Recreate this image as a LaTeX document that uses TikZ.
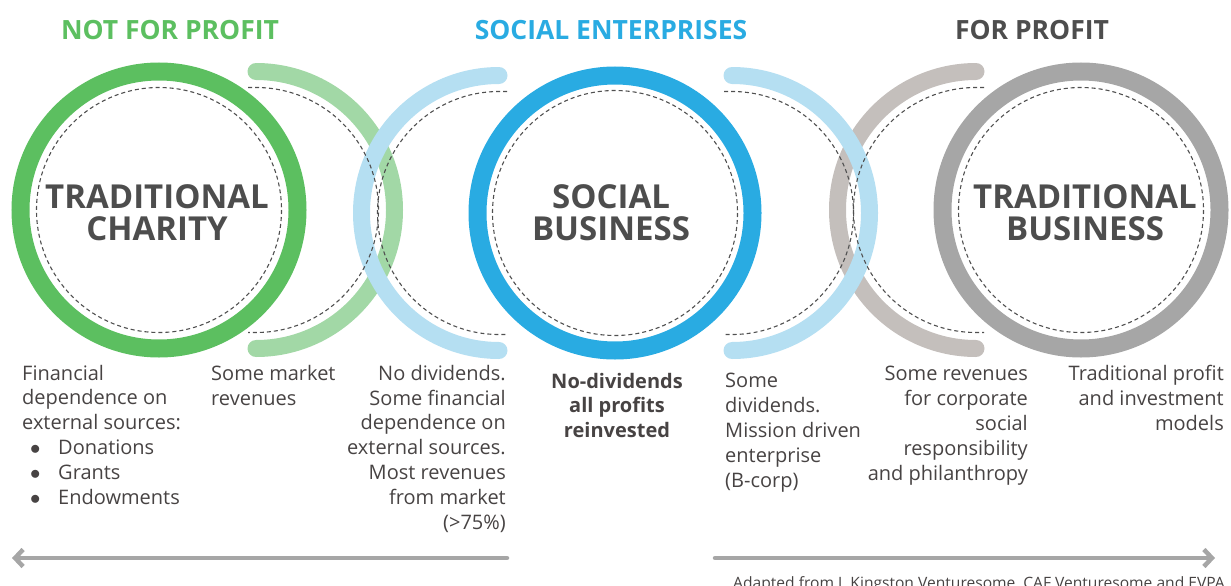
\documentclass[tikz,border=0pt]{standalone}
\usepackage{fontspec}
\setmainfont{Open Sans}
\newfontfamily\headfont{Open Sans}
\usetikzlibrary{arrows.meta}
\definecolor{npgreen}{HTML}{5CBF60}
\definecolor{npgreenlight}{HTML}{A2D8A6}
\definecolor{seblue}{HTML}{29ABE2}
\definecolor{sebluelight}{HTML}{B5DFF2}
\definecolor{fptaupe}{HTML}{C4BFBC}
\definecolor{fpgray}{HTML}{A6A6A6}
\definecolor{ink}{HTML}{4D4D4D}
\definecolor{bodyink}{HTML}{474343}
\definecolor{dashink}{HTML}{505050}
\definecolor{arrowgray}{HTML}{A6A6A6}
\newcommand\bulletitem[1]{\makebox[36pt][l]{\hspace{8pt}$\bullet$}#1}

\begin{document}
\begin{tikzpicture}[x=1pt,y=-1pt,
  ring/.style={line width=18pt},
  halfring/.style={line width=17pt, line cap=round},
  guide/.style={dashink, line width=1.1pt, dash pattern=on 4pt off 3pt},
  heading/.style={font=\headfont\bfseries\fontsize{26.5}{30}\selectfont, inner sep=0pt, anchor=base},
  title/.style={font=\headfont\bfseries\fontsize{33}{32}\selectfont, text=ink, align=center, inner sep=0pt},
  note/.style={font=\fontsize{20}{24.8}\selectfont, text=bodyink, inner sep=0pt},
  scalearrow/.style={arrowgray, line width=4.5pt, line cap=round, -{Straight Barb[length=8pt,width=17pt]}}
]
\useasboundingbox (0,0) rectangle (1231,586);
\clip (0,0) rectangle (1231,586);

% centres of the rings and half rings
\coordinate (cNP)  at (159,210);
\coordinate (cNPx) at (256,210);
\coordinate (cSEl) at (499,213);
\coordinate (cSB)  at (615,213);
\coordinate (cSEr) at (732,213);
\coordinate (cFPx) at (976,210);
\coordinate (cTB)  at (1081,210);

% half rings (transition zones)
\draw[halfring, npgreenlight] (cNPx) ++(-90:138.5) arc[start angle=-90, end angle=90, radius=138.5];
\draw[halfring, sebluelight] (cSEl) ++(-90:137.5) arc[start angle=-90, end angle=-270, radius=137.5];
\draw[halfring, fptaupe] (cFPx) ++(-90:138.5) arc[start angle=-90, end angle=-270, radius=138.5];
\draw[halfring, sebluelight] (cSEr) ++(-90:137.5) arc[start angle=-90, end angle=90, radius=137.5];

% full rings
\draw[ring, npgreen] (cNP) circle[radius=138.5];
\draw[ring, seblue] (cSB) circle[radius=137.5];
\draw[ring, fpgray] (cTB) circle[radius=138.5];

% dashed guides
\draw[guide] (cNP) circle[radius=122.5];
\draw[guide] (cSB) circle[radius=122.5];
\draw[guide] (cTB) circle[radius=122.5];
\draw[guide] (cNPx) ++(-8,-122.5) -- ++(8,0) arc[start angle=-90, end angle=90, radius=122.5] -- ++(-8,0);
\draw[guide] (cSEl) ++(8,-121.5) -- ++(-8,0) arc[start angle=-90, end angle=-270, radius=121.5] -- ++(8,0);
\draw[guide] (cFPx) ++(8,-122.5) -- ++(-8,0) arc[start angle=-90, end angle=-270, radius=122.5] -- ++(8,0);
\draw[guide] (cSEr) ++(-8,-121.5) -- ++(8,0) arc[start angle=-90, end angle=90, radius=121.5] -- ++(-8,0);

% headings
\node[heading, text=npgreen] (hNP) at (170,40) {NOT FOR PROFIT};
\node[heading, text=seblue] (hSE) at (611,40) {SOCIAL ENTERPRISES};
\node[heading, text=ink] (hFP) at (1032,40) {FOR PROFIT};

% ring titles
\node[title] (tNP) at (157,213) {TRADITIONAL\\CHARITY};
\node[title] (tSB) at (611,213) {SOCIAL\\BUSINESS};
\node[title] (tTB) at (1085,213) {TRADITIONAL\\BUSINESS};

% descriptions (anchored on the baseline of their last line)
\node[note, anchor=base west, align=left] (n1) at (22,504)
  {Financial\\dependence on\\external sources:\\\bulletitem{Donations}\\\bulletitem{Grants}\\\bulletitem{Endowments}};
\node[note, anchor=base west, align=left] (n2) at (211,405) {Some market\\revenues};
\node[note, anchor=base east, align=right] (n3) at (506,529)
  {No dividends.\\Some financial\\dependence on\\external sources.\\Most revenues\\from market\\(>75\%)};
\node[note, anchor=base, align=center, font=\bfseries\fontsize{20}{24.5}\selectfont] (n4) at (617,437)
  {No-dividends\\all profits\\reinvested};
\node[note, anchor=base west, align=left] (n5) at (725,487)
  {Some\\dividends.\\Mission driven\\enterprise\\(B-corp)};
\node[note, anchor=base east, align=right] (n6) at (1028,480)
  {Some revenues\\for corporate\\social\\responsibility\\and philanthropy};
\node[note, anchor=base east, align=right] (n7) at (1224,430)
  {Traditional profit\\and investment\\models};

% scale arrows
\coordinate (aLs) at (507,558);
\coordinate (aLe) at (12,558);
\coordinate (aRs) at (715,558);
\coordinate (aRe) at (1215,558);
\draw[scalearrow] (aLs) -- (aLe);
\draw[scalearrow] (aRs) -- (aRe);

% source
\node[anchor=base east, inner sep=0pt, text=bodyink, font=\fontsize{15.6}{18}\selectfont] (src) at (1225,588.5)
  {Adapted from J. Kingston Venturesome, CAF Venturesome and EVPA};
\end{tikzpicture}
\end{document}
